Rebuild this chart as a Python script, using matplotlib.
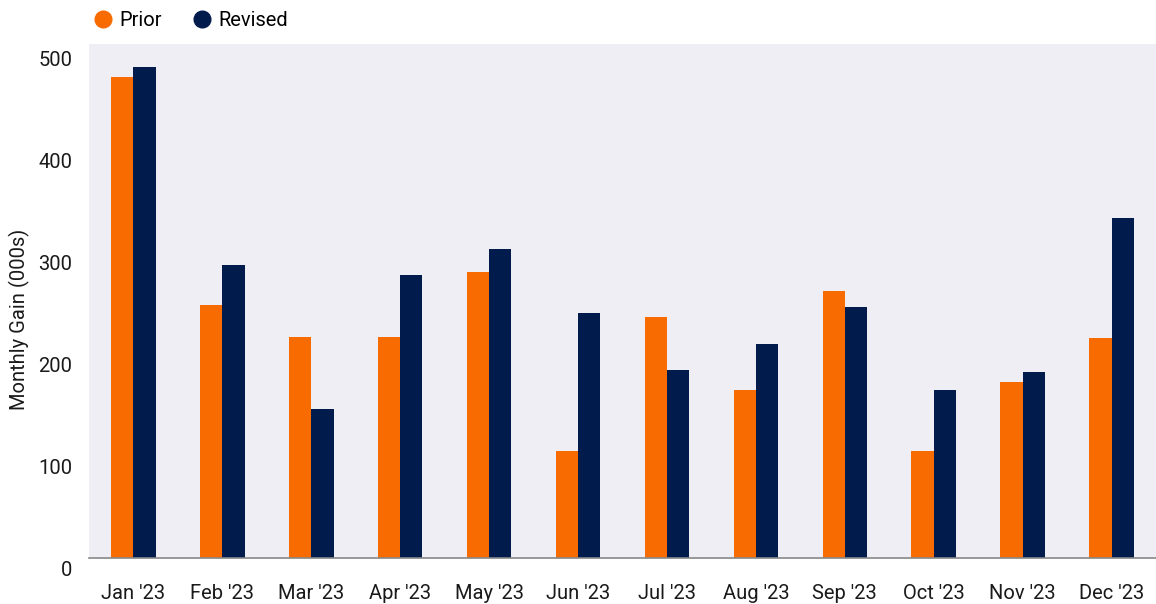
import matplotlib.pyplot as plt
import matplotlib.transforms as mtransforms
import numpy as np

months = ["Jan '23", "Feb '23", "Mar '23", "Apr '23", "May '23", "Jun '23",
          "Jul '23", "Aug '23", "Sep '23", "Oct '23", "Nov '23", "Dec '23"]
prior = [472, 248, 217, 217, 281, 105, 236, 165, 262, 105, 173, 216]
revised = [482, 287, 146, 278, 303, 240, 184, 210, 246, 165, 182, 333]
yticks = [0, 100, 200, 300, 400, 500]

orange = "#F76B00"
navy = "#021B4D"
bg = "#EFEEF4"

plt.rcParams["font.family"] = ["Roboto", "DejaVu Sans"]

fig = plt.figure(figsize=(11.56, 6.04), dpi=100)
ax = fig.add_axes([0.077, 0.076, 0.923, 0.851])
ax.set_facecolor(bg)

x = np.arange(len(months))
w = 0.25
ax.bar(x - w / 2, prior, width=w, color=orange, label="Prior", zorder=2)
ax.bar(x + w / 2, revised, width=w, color=navy, label="Revised", zorder=2)

ax.set_xlim(-0.5, len(months) - 0.5)
ax.set_ylim(0, 504)
ax.set_xticks(x)
ax.set_xticklabels(months, fontsize=14.5, color="#1a1a1a")
ax.set_yticks(yticks)
ax.set_yticklabels([str(v) for v in yticks], fontsize=14.5, color="#1a1a1a")
ax.tick_params(axis="both", length=0)
ax.tick_params(axis="x", pad=19)
ax.tick_params(axis="y", pad=12)

# y labels sit a bit below their gridline positions in the original
offset = mtransforms.ScaledTranslation(0, -10 / 100, fig.dpi_scale_trans)
for lbl in ax.get_yticklabels():
    lbl.set_transform(lbl.get_transform() + offset)

for side in ["top", "right", "left"]:
    ax.spines[side].set_visible(False)
ax.spines["bottom"].set_color("#888888")
ax.spines["bottom"].set_linewidth(1.2)

ax.set_ylabel("Monthly Gain (000s)", fontsize=14.5, color="#1a1a1a")
ax.yaxis.set_label_coords(-0.055, 0.465)

handles = [plt.Line2D([], [], marker="o", linestyle="", markersize=12, color=c)
           for c in (orange, navy)]
fig.legend(handles, ["Prior", "Revised"], loc="upper left",
           bbox_to_anchor=(0.063, 1.012), ncol=2, frameon=False, fontsize=14.5,
           handletextpad=0.2, columnspacing=1.4, handlelength=1.2)

fig.savefig("out.png", dpi=100)
